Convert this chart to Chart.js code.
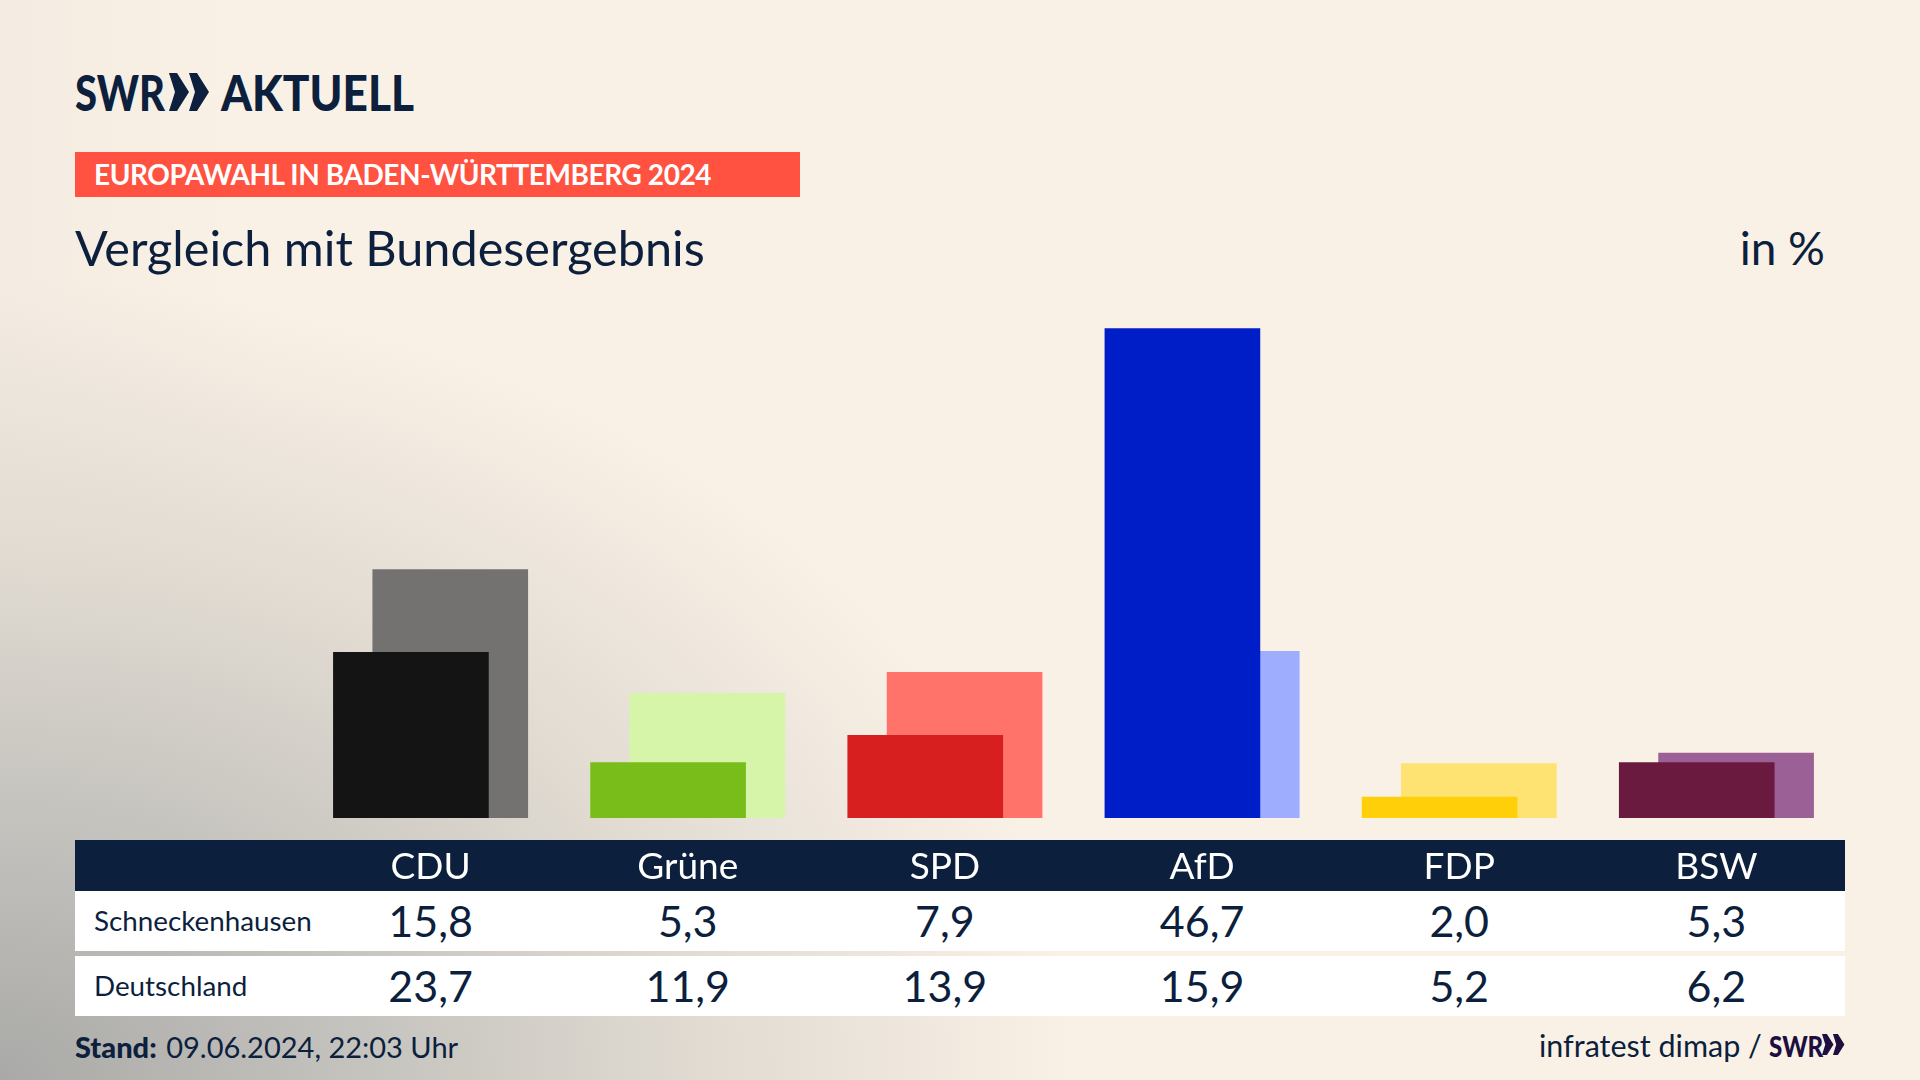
<!DOCTYPE html>
<html lang="de">
<head>
<meta charset="utf-8">
<title>Europawahl Vergleich</title>
<script src="https://cdn.jsdelivr.net/npm/chart.js@4"></script>
<style>
html, body { margin: 0; padding: 0; }
body {
    width: 1920px; height: 1080px; overflow: hidden; position: relative;
    font-family: "Lato", sans-serif; color: #0c1f3d;
    background:
        radial-gradient(ellipse 1080px 800px at 0px 1080px, #a9a9a7 0%, #c6c4bf 35%, #e0dad1 64%, rgba(250,241,230,0) 100%),
        linear-gradient(90deg, #f4ece2 0px, #faf1e6 260px);
    background-color: #faf1e6;
}
.abs { position: absolute; white-space: nowrap; }
#logo { left: 75px; top: 65px; font-size: 50px; font-weight: 900; line-height: 54px; }
#logo span { position: absolute; top: 0; transform-origin: left center; }
#logo .swr { left: 0; transform: scaleX(0.8); }
#logo svg { position: absolute; left: 94px; top: 8px; }
#logo .name { left: 146px; transform: scaleX(0.885); }
#banner { left: 75px; top: 152px; width: 725px; height: 45px; background: #ff5240; color: #fff;
    font-size: 28px; font-weight: 700; line-height: 45px; text-indent: 19px; letter-spacing: -0.42px; }
#title { left: 75px; top: 219px; font-size: 48.6px; line-height: 56px; }
#unit { right: 95px; top: 220px; font-size: 46px; line-height: 56px; }
#band { left: 75px; top: 840px; width: 1770px; height: 51px; background: #0c1f3d; }
.row { left: 75px; width: 1770px; height: 60px; background: #fff; display: grid;
    grid-template-columns: 227px repeat(6, 257.17px); align-items: center; }
.row div { position: relative; top: -1px; }
.row .lab { font-size: 27.8px; padding-left: 19px; }
.row .val { font-size: 43px; text-align: center; }
#chartBox { position: absolute; left: 302px; top: 294px; width: 1543px; height: 597px; }
#stand { left: 75px; top: 1029px; font-size: 29px; line-height: 36px; }
#stand b { font-weight: 900; margin-right: 2px; }
#source { left: 1539px; top: 1027px; font-size: 30.5px; line-height: 36px; }
#srcLogo { left: 1769px; top: 1028px; font-size: 28px; font-weight: 900; line-height: 36px; color: #1d0f3f;
    transform: scaleX(0.86); transform-origin: left center; }
#srcChev { position: absolute; left: 1822px; top: 1034px; }
</style>
</head>
<body>
<div class="abs" id="logo">
    <span class="swr">SWR</span>
    <svg width="42" height="38" viewBox="0 0 42 38"><path fill="#0c1f3d" d="M0 0h8l12 19L8 38H0l6-19zM20 0h8l12 19-12 19h-8l6-19z"/></svg>
    <span class="name">AKTUELL</span>
</div>
<div class="abs" id="banner">EUROPAWAHL IN BADEN-WÜRTTEMBERG 2024</div>
<div class="abs" id="title">Vergleich mit Bundesergebnis</div>
<div class="abs" id="unit">in %</div>
<div class="abs" id="band"></div>
<div class="abs row" id="row1" style="top:891px"></div>
<div class="abs row" id="row2" style="top:956px"></div>
<div id="chartBox"><canvas id="myChart" width="1543" height="597"></canvas></div>
<div class="abs" id="stand"><b>Stand:</b> 09.06.2024, 22:03 Uhr</div>
<div class="abs" id="source">infratest dimap /</div>
<div class="abs" id="srcLogo">SWR</div>
<svg id="srcChev" width="23" height="21" viewBox="0 0 42 38"><path fill="#1d0f3f" d="M0 0h9l12 19L9 38H0l6-19zM20 0h9l12 19-12 19h-9l6-19z"/></svg>

<script>
const categories = ["CDU", "Grüne", "SPD", "AfD", "FDP", "BSW"];
const regionLabel = "Schneckenhausen";
const nationLabel = "Deutschland";
const regionValues = [15.8, 5.3, 7.9, 46.7, 2.0, 5.3];
const nationValues = [23.7, 11.9, 13.9, 15.9, 5.2, 6.2];
const regionColors = ["#141414", "#79bd1a", "#d71f1f", "#001ec8", "#ffcf0a", "#6b1a3f"];
const nationColors = ["#737270", "#d6f5a8", "#ff736b", "#9fadff", "#fee272", "#9b6197"];

// each pair of bars is shifted apart around the category centre
const barShift = 0.0765;

function fillRow(id, label, values) {
    const row = document.getElementById(id);
    let html = `<div class="lab">${label}</div>`;
    values.forEach(v => {
        html += `<div class="val">${v.toFixed(1).replace(".", ",")}</div>`;
    });
    row.innerHTML = html;
}

fillRow("row1", regionLabel, regionValues);
fillRow("row2", nationLabel, nationValues);

const ctx = document.getElementById("myChart").getContext("2d");

new Chart(ctx, {
    type: "bar",
    data: {
        datasets: [
            {
                label: regionLabel,
                data: regionValues.map((v, i) => ({ x: i - barShift, y: v })),
                backgroundColor: regionColors
            },
            {
                label: nationLabel,
                data: nationValues.map((v, i) => ({ x: i + barShift, y: v })),
                backgroundColor: nationColors
            }
        ]
    },
    options: {
        responsive: false,
        animation: false,
        devicePixelRatio: 1,
        grouped: false,
        barThickness: 155,
        borderWidth: 0,
        layout: { padding: 0 },
        plugins: {
            legend: { display: false },
            tooltip: { enabled: false }
        },
        scales: {
            x: {
                type: "linear",
                offset: false,
                min: -0.5,
                max: 5.5,
                grid: { display: false },
                border: { display: false },
                afterBuildTicks: scale => {
                    scale.ticks = categories.map((c, i) => ({ value: i }));
                },
                afterFit: scale => { scale.height = 73; },
                ticks: {
                    autoSkip: false,
                    maxRotation: 0,
                    padding: 19,
                    color: "#ffffff",
                    font: { family: "Lato", size: 37 },
                    callback: value => categories[value]
                }
            },
            y: {
                display: false,
                min: 0,
                max: 50
            }
        }
    }
});
</script>
</body>
</html>
